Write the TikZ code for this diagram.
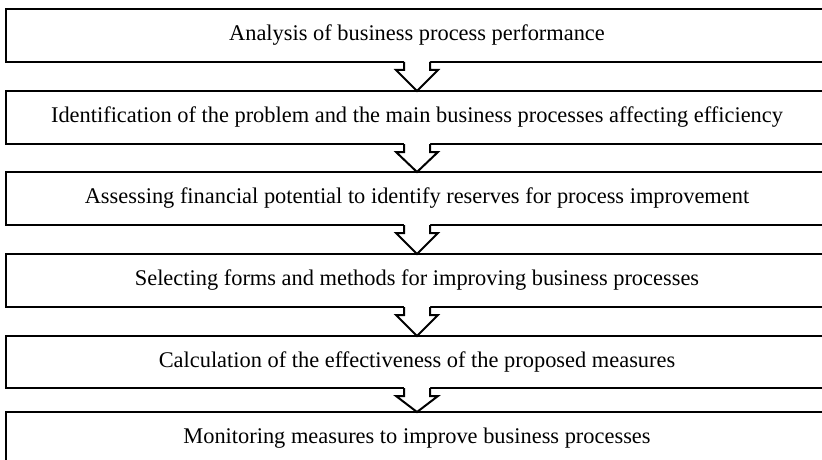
\documentclass[tikz,border=0pt]{standalone}
\usepackage{fontspec}
\setmainfont{Liberation Serif}
\usetikzlibrary{calc}

\begin{document}
\begin{tikzpicture}[
  x = 1pt, y = -1pt,
  stage/.style = {
    draw,
    line width = 2.8pt,
    minimum width = 822pt,
    minimum height = 53pt,
    inner sep = 0pt,
    outer sep = 0pt,
    anchor = north,
    font = \fontsize{22.4}{26}\selectfont
  },
  flow/.style = {
    line width = 2pt,
    line join = miter
  }
]
  \useasboundingbox (0, 0) rectangle (822, 460);
  \clip (0, 0) rectangle (822, 460);

  \node[stage] (S1) at (417, 9) {Analysis of business process performance};
  \node[stage] (S2) at (417, 91) {Identification of the problem and the main business processes affecting efficiency};
  \node[stage] (S3) at (417, 172) {Assessing financial potential to identify reserves for process improvement};
  \node[stage] (S4) at (417, 254) {Selecting forms and methods for improving business processes};
  \node[stage, minimum height = 52pt] (S5) at (417, 336) {Calculation of the effectiveness of the proposed measures};
  \node[stage] (S6) at (417, 412) {Monitoring measures to improve business processes};

  % hollow arrows between the stages
  \foreach \a/\b in {S1/S2, S2/S3, S3/S4, S4/S5, S5/S6} {
    \fill[white] ($(\a.south)+(-13,-2)$) -- ($(\a.south)+(-13,8)$)
      -- ($(\a.south)+(-21,8)$) -- (\b.north) -- ($(\a.south)+(21,8)$)
      -- ($(\a.south)+(13,8)$) -- ($(\a.south)+(13,-2)$) -- cycle;
    \draw[flow] ($(\a.south)+(-13,0)$) -- ($(\a.south)+(-13,8)$)
      -- ($(\a.south)+(-21,8)$) -- (\b.north) -- ($(\a.south)+(21,8)$)
      -- ($(\a.south)+(13,8)$) -- ($(\a.south)+(13,0)$);
  }
\end{tikzpicture}
\end{document}
